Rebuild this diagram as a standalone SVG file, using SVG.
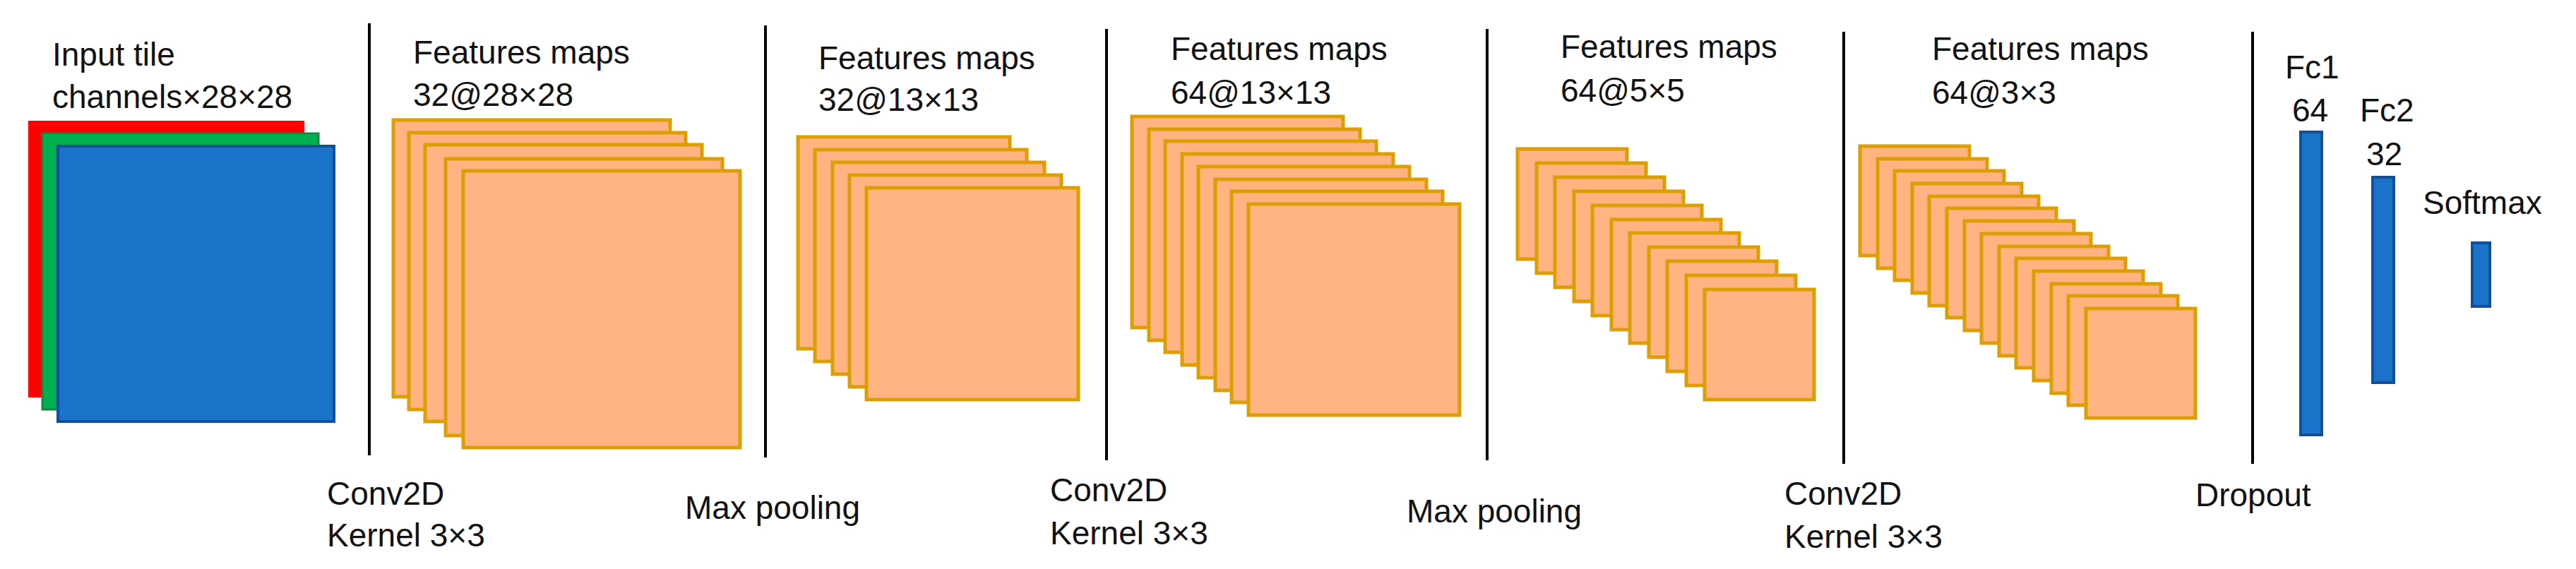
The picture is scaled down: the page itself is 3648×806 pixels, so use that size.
<svg xmlns="http://www.w3.org/2000/svg" width="3648" height="806" viewBox="0 0 3648 806">
<style>
text{font-family:"Liberation Sans",Arial,sans-serif;font-size:46px;fill:#111}
.fm{fill:#FFB482;stroke:#DC9E00;stroke-width:5}
.fc{fill:#1A73C8;stroke:#10509A;stroke-width:4}
.sep{stroke:#000;stroke-width:4}
</style>
<rect width="3648" height="806" fill="#fff"/>
<g id="input">
<rect x="40" y="171" width="391" height="392" fill="#FF0000"/>
<rect x="60" y="189" width="391" height="391" fill="#00B050" stroke="#118844" stroke-width="3"/>
<rect x="82" y="207" width="391" height="390" class="fc"/>
<text x="74" y="93">Input tile</text>
<text x="74" y="153">channels×28×28</text>
</g>
<g id="connectors">
<line class="sep" x1="523" y1="33" x2="523" y2="645"/>
<line class="sep" x1="1084" y1="36" x2="1084" y2="648"/>
<line class="sep" x1="1567" y1="41" x2="1567" y2="652"/>
<line class="sep" x1="2106" y1="41" x2="2106" y2="652"/>
<line class="sep" x1="2611" y1="45" x2="2611" y2="657"/>
<line class="sep" x1="3190" y1="45" x2="3190" y2="657"/>
</g>
<g id="fm1">
<rect class="fm" x="557" y="170" width="392" height="392"/>
<rect class="fm" x="579" y="188" width="392" height="392"/>
<rect class="fm" x="602" y="205" width="392" height="392"/>
<rect class="fm" x="631" y="225" width="392" height="392"/>
<rect class="fm" x="656" y="242" width="392" height="392"/>
<text x="585" y="90">Features maps</text>
<text x="585" y="150">32@28×28</text>
</g>
<g id="fm2">
<rect class="fm" x="1130" y="194" width="300" height="300"/>
<rect class="fm" x="1154" y="212" width="300" height="300"/>
<rect class="fm" x="1179" y="230" width="300" height="300"/>
<rect class="fm" x="1203" y="248" width="300" height="300"/>
<rect class="fm" x="1227" y="266" width="300" height="300"/>
<text x="1159" y="98">Features maps</text>
<text x="1159" y="157">32@13×13</text>
</g>
<g id="fm3">
<rect class="fm" x="1603" y="165" width="299" height="299"/>
<rect class="fm" x="1627" y="183" width="299" height="299"/>
<rect class="fm" x="1650" y="200" width="299" height="299"/>
<rect class="fm" x="1674" y="218" width="299" height="299"/>
<rect class="fm" x="1697" y="236" width="299" height="299"/>
<rect class="fm" x="1721" y="254" width="299" height="299"/>
<rect class="fm" x="1744" y="271" width="299" height="299"/>
<rect class="fm" x="1768" y="289" width="299" height="299"/>
<text x="1658" y="85">Features maps</text>
<text x="1658" y="147">64@13×13</text>
</g>
<g id="fm4">
<rect class="fm" x="2149" y="211" width="155" height="156"/>
<rect class="fm" x="2176" y="231" width="155" height="156"/>
<rect class="fm" x="2202" y="251" width="155" height="156"/>
<rect class="fm" x="2229" y="271" width="155" height="156"/>
<rect class="fm" x="2255" y="291" width="155" height="156"/>
<rect class="fm" x="2282" y="311" width="155" height="156"/>
<rect class="fm" x="2308" y="330" width="155" height="156"/>
<rect class="fm" x="2335" y="350" width="155" height="156"/>
<rect class="fm" x="2361" y="370" width="155" height="156"/>
<rect class="fm" x="2388" y="390" width="155" height="156"/>
<rect class="fm" x="2414" y="410" width="155" height="156"/>
<text x="2210" y="82">Features maps</text>
<text x="2210" y="144">64@5×5</text>
</g>
<g id="fm5">
<rect class="fm" x="2634" y="207" width="155" height="155"/>
<rect class="fm" x="2659" y="225" width="155" height="155"/>
<rect class="fm" x="2683" y="242" width="155" height="155"/>
<rect class="fm" x="2708" y="260" width="155" height="155"/>
<rect class="fm" x="2732" y="278" width="155" height="155"/>
<rect class="fm" x="2757" y="295" width="155" height="155"/>
<rect class="fm" x="2782" y="313" width="155" height="155"/>
<rect class="fm" x="2806" y="331" width="155" height="155"/>
<rect class="fm" x="2831" y="349" width="155" height="155"/>
<rect class="fm" x="2855" y="366" width="155" height="155"/>
<rect class="fm" x="2880" y="384" width="155" height="155"/>
<rect class="fm" x="2905" y="402" width="155" height="155"/>
<rect class="fm" x="2929" y="419" width="155" height="155"/>
<rect class="fm" x="2954" y="437" width="155" height="155"/>
<text x="2736" y="85">Features maps</text>
<text x="2736" y="147">64@3×3</text>
</g>
<g id="fc1">
<rect class="fc" x="3258" y="187" width="30" height="429"/>
<text x="3236" y="111">Fc1</text>
<text x="3246" y="172">64</text>
</g>
<g id="fc2">
<rect class="fc" x="3360" y="251" width="30" height="291"/>
<text x="3342" y="172">Fc2</text>
<text x="3351" y="234">32</text>
</g>
<g id="softmax">
<rect class="fc" x="3501" y="344" width="25" height="90"/>
<text x="3431" y="303">Softmax</text>
</g>
<g id="labels">
<text x="463" y="715">Conv2D</text>
<text x="463" y="774">Kernel 3×3</text>
<text x="970" y="735">Max pooling</text>
<text x="1487" y="710">Conv2D</text>
<text x="1487" y="771">Kernel 3×3</text>
<text x="1992" y="740">Max pooling</text>
<text x="2527" y="715">Conv2D</text>
<text x="2527" y="776">Kernel 3×3</text>
<text x="3109" y="717">Dropout</text>
</g>
</svg>
